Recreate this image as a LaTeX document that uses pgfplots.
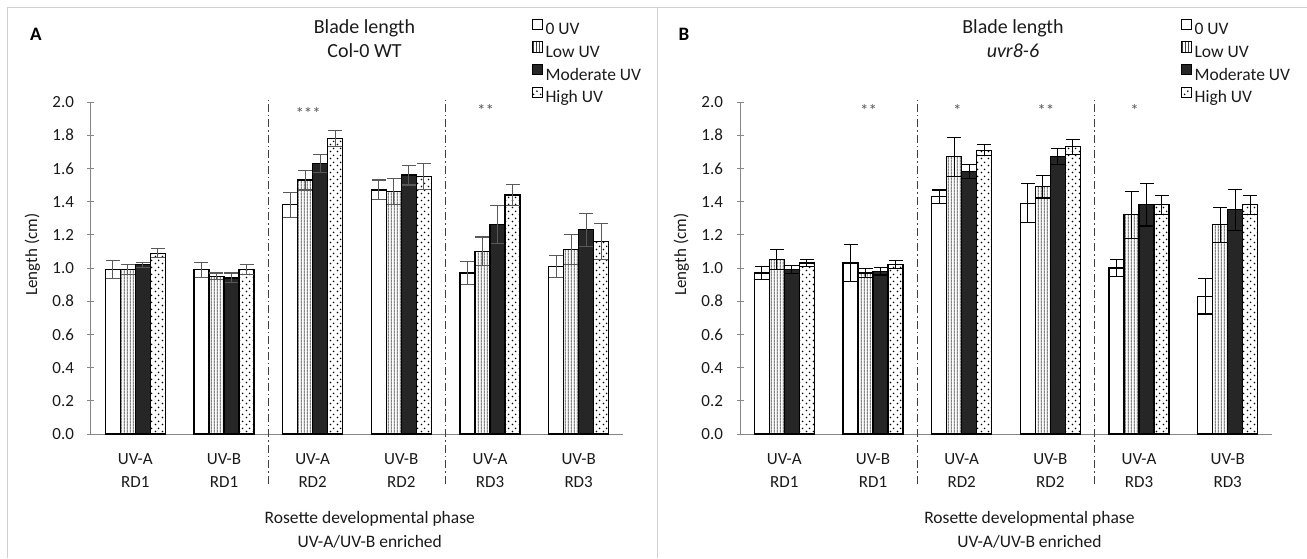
\documentclass[border=0pt]{standalone}
\usepackage{fontspec}
\setmainfont{Carlito}
\usepackage{pgfplots}
\usepackage{pgfplotstable}
\pgfplotsset{compat=1.18}
\usetikzlibrary{patterns}

\definecolor{AxisGray}{HTML}{868686}
\definecolor{FrameGray}{HTML}{D0D0D0}
\definecolor{ModFill}{HTML}{262626}
\definecolor{ErrGray}{HTML}{595959}
\definecolor{TextDark}{HTML}{1A1A1A}

% Excel-like fills: narrow vertical lines and sparse staggered dots
\pgfdeclarepatternformonly{vlines}{\pgfqpoint{0pt}{0pt}}{\pgfqpoint{2.8pt}{2.8pt}}{\pgfqpoint{2.8pt}{2.8pt}}{%
  \pgfsetlinewidth{0.8pt}%
  \pgfpathmoveto{\pgfqpoint{1.4pt}{0pt}}%
  \pgfpathlineto{\pgfqpoint{1.4pt}{2.8pt}}%
  \pgfusepath{stroke}}
\pgfdeclarepatternformonly{sparsedots}{\pgfqpoint{0pt}{0pt}}{\pgfqpoint{7pt}{7pt}}{\pgfqpoint{7pt}{7pt}}{%
  \pgfpathcircle{\pgfqpoint{1.75pt}{1.75pt}}{1pt}%
  \pgfpathcircle{\pgfqpoint{5.25pt}{5.25pt}}{1pt}%
  \pgfusepath{fill}}

% value / error for 0, low, moderate, high UV
\pgfplotstableread{
x v0 e0 v1 e1 v2 e2 v3 e3
0 0.99 0.055 0.99 0.030 1.02 0.015 1.09 0.025
1 0.99 0.045 0.95 0.020 0.94 0.030 0.99 0.030
2 1.38 0.075 1.53 0.060 1.63 0.055 1.78 0.050
3 1.47 0.060 1.46 0.080 1.56 0.060 1.55 0.077
4 0.97 0.070 1.10 0.087 1.26 0.115 1.44 0.065
5 1.01 0.065 1.11 0.090 1.23 0.100 1.16 0.110
}\tabWT
\pgfplotstableread{
x v0 e0 v1 e1 v2 e2 v3 e3
0 0.97 0.040 1.05 0.060 0.99 0.025 1.03 0.020
1 1.03 0.110 0.97 0.026 0.98 0.022 1.02 0.024
2 1.43 0.040 1.67 0.117 1.58 0.042 1.71 0.034
3 1.39 0.117 1.49 0.068 1.67 0.048 1.73 0.046
4 1.00 0.050 1.32 0.142 1.38 0.127 1.38 0.055
5 0.83 0.107 1.26 0.105 1.35 0.125 1.38 0.058
}\tabUVR

\tikzset{sepline/.style={black!75, line width=1pt, dash pattern=on 8pt off 3pt on 1.5pt off 3pt}}

\pgfplotsset{
  bladeaxis/.style={
    scale only axis, width=532pt, height=332pt, anchor=south west,
    ybar=0pt, bar width=15pt,
    xmin=-0.5, xmax=5.5, ymin=0, ymax=2,
    xtick={0,1,2,3,4,5},
    xticklabels={{UV-A\\RD1},{UV-B\\RD1},{UV-A\\RD2},{UV-B\\RD2},{UV-A\\RD3},{UV-B\\RD3}},
    xticklabel style={align=center, font=\fontsize{17}{23}\selectfont, yshift=-13pt},
    ytick={0,0.2,0.4,0.6,0.8,1.0,1.2,1.4,1.6,1.8,2.0},
    yticklabel style={xshift=-10pt, /pgf/number format/fixed, /pgf/number format/fixed zerofill,
      /pgf/number format/precision=1, /pgf/number format/assume math mode=true},
    tick label style={font=\fontsize{17}{20}\selectfont, text=TextDark},
    axis x line*=bottom, axis y line*=left,
    axis line style={AxisGray, line width=1pt},
    tick align=center, major tick length=7pt,
    ytick style={AxisGray, line width=0.8pt}, xtick style={draw=none},
    ylabel={Length (cm)},
    every axis y label/.style={at={(axis description cs:-0.110,0.54)}, rotate=90, anchor=center, font=\fontsize{17}{20}\selectfont, text=TextDark},
    xlabel={Rosette developmental phase\\UV-A/UV-B enriched},
    every axis x label/.style={at={(axis description cs:0.524,-0.289)}, anchor=center, align=center, font=\fontsize{17.5}{24}\selectfont, text=TextDark},
    clip=false,
    legend cell align=left,
    % the image cell is centred on the text baseline: extend its box below (path discarded, not drawn)
    legend image code/.code={%
      \pgfpathmoveto{\pgfqpoint{0pt}{-11.1pt}}\pgfpathlineto{\pgfqpoint{0pt}{11.1pt}}\pgfusepath{discard}%
      \draw[#1, line width=0.9pt] (0pt,0pt) rectangle (10.5pt,10.5pt);},
    legend style={at={(0.828,1.2524)}, anchor=north west, draw=none, fill=none, inner sep=0pt,
      row sep=0.5pt, font=\fontsize{17.5}{20}\selectfont, text=TextDark,
      nodes={inner sep=0pt, inner xsep=2.5pt}},
  },
  uv0/.style={draw=black, fill=white, line width=1.1pt},
  uv1/.style={draw=black, fill=white, postaction={pattern=vlines, pattern color=black!75}, line width=1.1pt},
  uv2/.style={draw=black, fill=ModFill, line width=1.1pt},
  uv3/.style={draw=black, fill=white, postaction={pattern=sparsedots, pattern color=black}, line width=1.1pt},
  errs/.style={error bars/.cd, y dir=both, y explicit,
    error bar style={line width=1.1pt, draw=#1},
    error mark options={rotate=90, mark size=7pt, line width=1.1pt, draw=#1}},
}

\begin{document}
\begin{tikzpicture}
\useasboundingbox (0,0) rectangle (1307pt,558pt);
\draw[FrameGray, line width=1pt] (7.5pt,0pt) -- (7.5pt,550pt) -- (1307pt,550pt);
\draw[FrameGray, line width=1pt] (657.5pt,0pt) -- (657.5pt,550pt);

% panel A
\node[anchor=base west, inner sep=0pt, font=\bfseries\fontsize{19}{22}\selectfont] at (30pt,517.3pt) {A};
\node[anchor=base, inner sep=0pt, font=\fontsize{20}{24}\selectfont, text=TextDark] at (364.5pt,524.7pt) {Blade length};
\node[anchor=base, inner sep=0pt, font=\fontsize{20}{24}\selectfont, text=TextDark] at (364.5pt,500.7pt) {Col-0 WT};
\begin{axis}[bladeaxis, at={(91pt,124pt)}]
\addplot[uv0, errs=ErrGray] table[x=x, y=v0, y error=e0] {\tabWT};
\addlegendentry{0 UV}
\addplot[uv1, errs=ErrGray] table[x=x, y=v1, y error=e1] {\tabWT};
\addlegendentry{Low UV}
\addplot[uv2, errs=ErrGray] table[x=x, y=v2, y error=e2] {\tabWT};
\addlegendentry{Moderate UV}
\addplot[uv3, errs=ErrGray] table[x=x, y=v3, y error=e3] {\tabWT};
\addlegendentry{High UV}
\draw[sepline] (axis cs:1.5,-0.30) -- (axis cs:1.5,2.01);
\draw[sepline] (axis cs:3.5,-0.30) -- (axis cs:3.5,2.01);
\node[text=ErrGray, font=\fontsize{17}{20}\selectfont] at (axis cs:1.95,1.93) {***};
\node[text=ErrGray, font=\fontsize{17}{20}\selectfont] at (axis cs:3.95,1.95) {**};
\end{axis}

% panel B
\node[anchor=base west, inner sep=0pt, font=\bfseries\fontsize{19}{22}\selectfont] at (678.5pt,517.3pt) {B};
\node[anchor=base, inner sep=0pt, font=\fontsize{20}{24}\selectfont, text=TextDark] at (1013pt,524.7pt) {Blade length};
\node[anchor=base, inner sep=0pt, font=\fontsize{20}{24}\selectfont, text=TextDark] at (1013pt,500.7pt) {\itshape uvr8-6};
\begin{axis}[bladeaxis, at={(740pt,124pt)},
  every axis x label/.append style={at={(axis description cs:0.544,-0.289)}}]
\addplot[uv0, errs=black] table[x=x, y=v0, y error=e0] {\tabUVR};
\addlegendentry{0 UV}
\addplot[uv1, errs=black] table[x=x, y=v1, y error=e1] {\tabUVR};
\addlegendentry{Low UV}
\addplot[uv2, errs=black] table[x=x, y=v2, y error=e2] {\tabUVR};
\addlegendentry{Moderate UV}
\addplot[uv3, errs=black] table[x=x, y=v3, y error=e3] {\tabUVR};
\addlegendentry{High UV}
\draw[sepline] (axis cs:1.5,-0.30) -- (axis cs:1.5,2.01);
\draw[sepline] (axis cs:3.5,-0.30) -- (axis cs:3.5,2.01);
\node[text=ErrGray, font=\fontsize{17}{20}\selectfont] at (axis cs:0.95,1.95) {**};
\node[text=ErrGray, font=\fontsize{17}{20}\selectfont] at (axis cs:1.95,1.95) {*};
\node[text=ErrGray, font=\fontsize{17}{20}\selectfont] at (axis cs:2.95,1.95) {**};
\node[text=ErrGray, font=\fontsize{17}{20}\selectfont] at (axis cs:3.95,1.95) {*};
\end{axis}
\end{tikzpicture}
\end{document}
